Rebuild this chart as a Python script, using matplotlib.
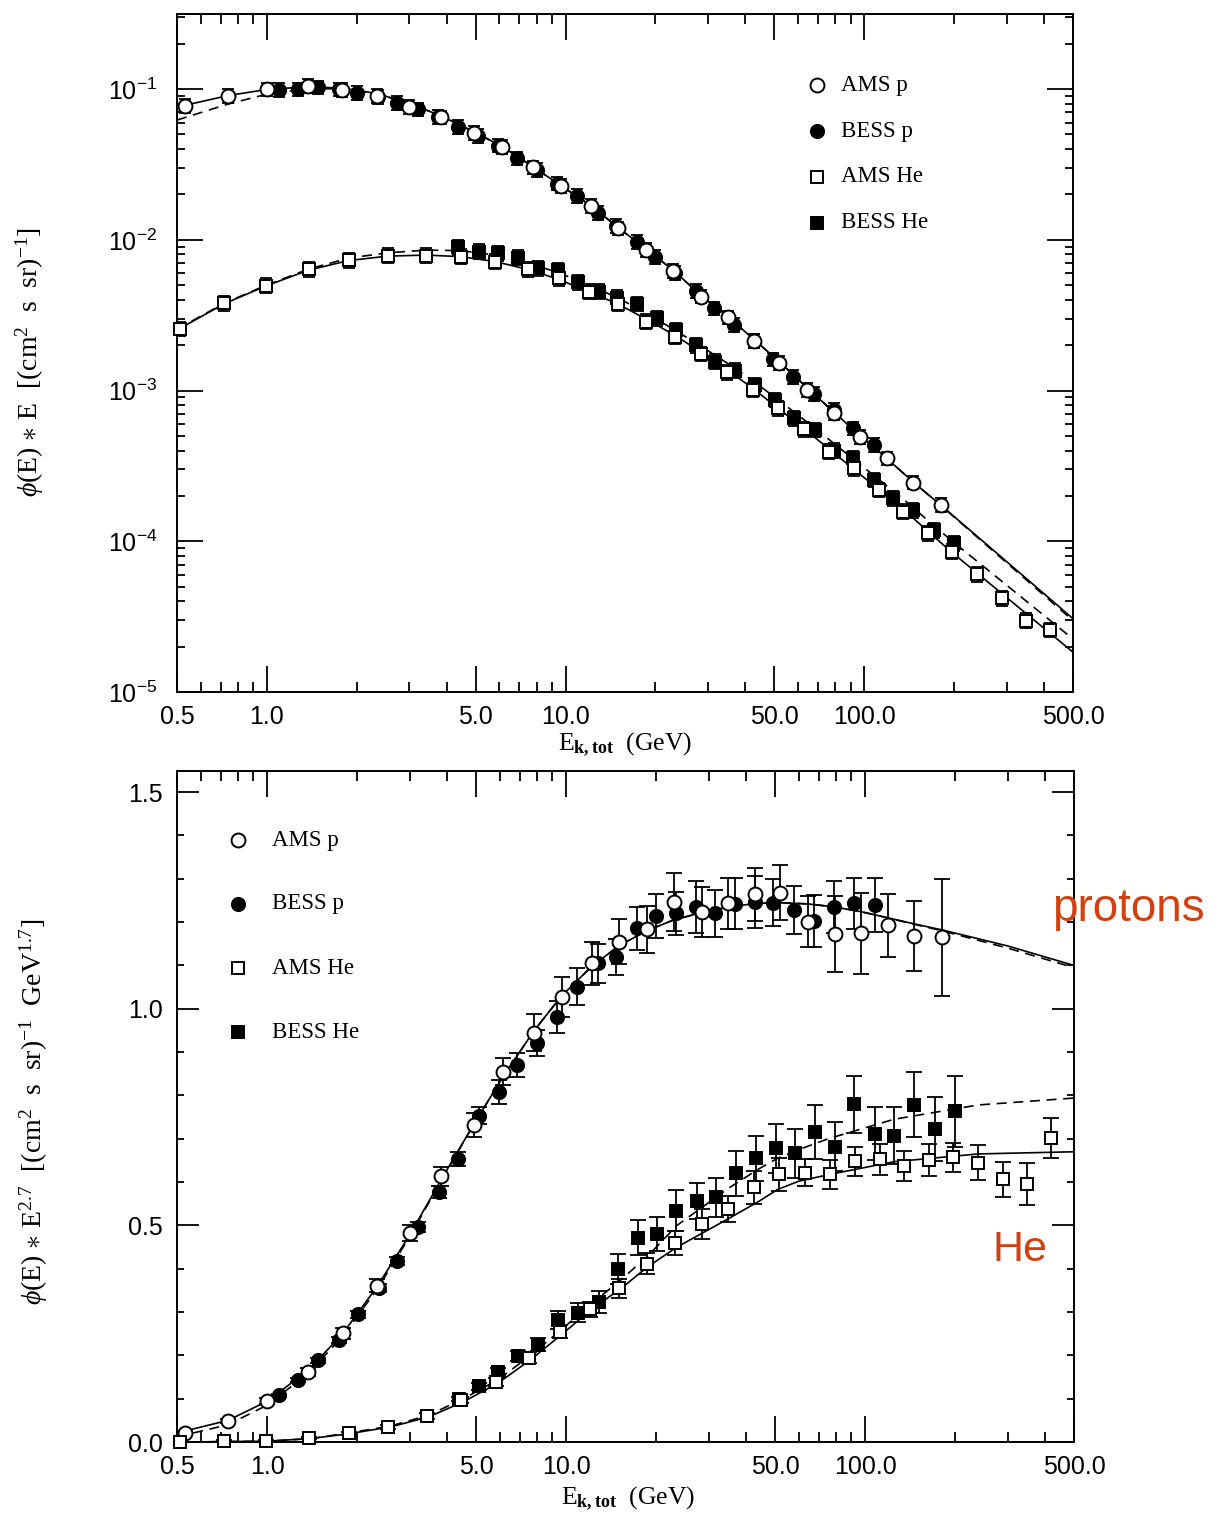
import matplotlib
matplotlib.use('Agg')
import matplotlib.pyplot as plt
from matplotlib.ticker import (FixedLocator, FixedFormatter, NullFormatter,
                               LogLocator, LogFormatterMathtext,
                               MultipleLocator, FormatStrFormatter)

plt.rcParams['font.family'] = ['Liberation Sans', 'DejaVu Sans']
plt.rcParams['mathtext.fontset'] = 'custom'
plt.rcParams['mathtext.rm'] = 'Liberation Serif'
plt.rcParams['mathtext.it'] = 'Liberation Serif:italic'
plt.rcParams['mathtext.bf'] = 'Liberation Serif:bold'

# ---- data: AMS protons (open circles) ----
ams_p_E = [0.53, 0.74, 1.0, 1.37, 1.79, 2.33, 3.0, 3.82, 4.93, 6.14,
           7.79, 9.67, 12.2, 15.0, 18.6, 22.9, 28.4, 34.9, 42.9, 52.0,
           64.5, 79.1, 97.1, 119, 146, 181]
ams_p_top = [0.0775, 0.0899, 0.0995, 0.1047, 0.0985, 0.0899, 0.0763, 0.0649, 0.0513, 0.0411,
             0.0302, 0.0227, 0.01675, 0.01191, 0.00855, 0.00620, 0.00420, 0.00306, 0.00214, 0.00153,
             0.001008, 7.12e-4, 4.94e-4, 3.55e-4, 2.45e-4, 1.74e-4]
ams_p_bot = [0.022, 0.048, 0.095, 0.162, 0.251, 0.361, 0.482, 0.613, 0.732, 0.855,
             0.945, 1.028, 1.105, 1.155, 1.183, 1.247, 1.224, 1.243, 1.264, 1.268,
             1.201, 1.172, 1.174, 1.193, 1.168, 1.165]
ams_p_err = [0.004, 0.005, 0.007, 0.009, 0.012, 0.015, 0.018, 0.022, 0.027, 0.032,
             0.042, 0.046, 0.05, 0.052, 0.055, 0.067, 0.058, 0.058, 0.062, 0.064,
             0.059, 0.088, 0.094, 0.073, 0.08, 0.135]

# ---- data: BESS protons (filled circles) ----
bess_p_E = [1.10, 1.27, 1.48, 1.74, 2.01, 2.36, 2.72, 3.20, 3.75, 4.35,
            5.11, 5.96, 6.86, 8.02, 9.35, 10.9, 12.8, 14.7, 17.3, 20.0,
            23.3, 27.3, 31.5, 36.6, 42.9, 49.4, 57.9, 67.7, 79.0, 91.6, 107.6]
bess_p_top = [0.0985, 0.0995, 0.1026, 0.0995, 0.0945, 0.0885, 0.0811, 0.0733, 0.0652, 0.0562,
              0.0488, 0.0422, 0.0347, 0.0290, 0.0236, 0.0195, 0.0151, 0.01234, 0.00971, 0.00772,
              0.00602, 0.00459, 0.00351, 0.00272, 0.00213, 0.00161, 0.001234, 9.48e-4, 7.42e-4, 5.61e-4,
              4.35e-4]
bess_p_bot = [0.108, 0.143, 0.189, 0.235, 0.295, 0.355, 0.418, 0.497, 0.578, 0.653,
              0.753, 0.808, 0.870, 0.922, 0.982, 1.051, 1.105, 1.120, 1.186, 1.214,
              1.220, 1.235, 1.220, 1.242, 1.247, 1.245, 1.228, 1.202, 1.234, 1.243, 1.239]
bess_p_err = [0.004, 0.005, 0.006, 0.007, 0.008, 0.009, 0.01, 0.012, 0.014, 0.017,
              0.02, 0.027, 0.028, 0.03, 0.037, 0.043, 0.045, 0.042, 0.05, 0.051,
              0.05, 0.06, 0.055, 0.059, 0.06, 0.055, 0.056, 0.06, 0.06, 0.06, 0.062]

# ---- data: AMS helium (open squares) ----
ams_he_E = [0.51, 0.72, 0.99, 1.38, 1.88, 2.54, 3.42, 4.45, 5.82, 7.51,
            9.54, 12.0, 15.0, 18.6, 23.2, 28.4, 34.8, 42.5, 51.4, 62.8,
            76.3, 92.3, 112, 135, 163, 197, 238, 289, 347, 418]
ams_he_top = [0.00256, 0.00379, 0.00496, 0.00637, 0.00734, 0.00784, 0.00784, 0.00772, 0.00715, 0.00637,
              0.00557, 0.00452, 0.00375, 0.00286, 0.00227, 0.00175, 0.00132, 0.001008, 7.62e-4, 5.53e-4,
              3.93e-4, 3.05e-4, 2.19e-4, 1.57e-4, 1.129e-4, 8.52e-5, 6.06e-5, 4.18e-5, 2.97e-5, 2.58e-5]
ams_he_bot = [0.001, 0.002, 0.002, 0.009, 0.02, 0.035, 0.06, 0.097, 0.139, 0.195,
              0.255, 0.306, 0.355, 0.412, 0.459, 0.503, 0.538, 0.588, 0.618, 0.622,
              0.618, 0.648, 0.653, 0.637, 0.652, 0.657, 0.645, 0.606, 0.595, 0.702]
ams_he_err = [0.002, 0.002, 0.002, 0.003, 0.004, 0.005, 0.006, 0.008, 0.01, 0.012,
              0.015, 0.018, 0.022, 0.025, 0.027, 0.035, 0.03, 0.038, 0.038, 0.032,
              0.033, 0.033, 0.036, 0.035, 0.037, 0.033, 0.041, 0.04, 0.048, 0.046]

# ---- data: BESS helium (filled squares) ----
bess_he_E = [4.37, 5.13, 5.93, 6.92, 8.07, 9.41, 11.0, 12.9, 14.9, 17.4,
             20.2, 23.4, 27.4, 31.7, 36.9, 43.1, 50.3, 58.3, 68.2, 79.3,
             92.0, 107.7, 125, 146, 171, 200]
bess_he_top = [0.00891, 0.00833, 0.00813, 0.00760, 0.00647, 0.0063, 0.00523, 0.00452, 0.00412, 0.00375,
               0.00301, 0.00252, 0.002003, 0.001552, 0.001353, 0.001088, 8.65e-4, 6.54e-4, 5.47e-4, 3.99e-4,
               3.55e-4, 2.55e-4, 1.93e-4, 1.61e-4, 1.187e-4, 9.69e-5]
bess_he_bot = [0.10, 0.129, 0.162, 0.198, 0.225, 0.282, 0.298, 0.324, 0.399, 0.472,
               0.48, 0.534, 0.557, 0.565, 0.62, 0.655, 0.678, 0.666, 0.716, 0.682,
               0.78, 0.712, 0.707, 0.779, 0.722, 0.764]
bess_he_err = [0.005, 0.008, 0.01, 0.012, 0.015, 0.02, 0.022, 0.025, 0.035, 0.04,
               0.04, 0.047, 0.042, 0.045, 0.052, 0.052, 0.056, 0.056, 0.062, 0.057,
               0.066, 0.062, 0.066, 0.074, 0.074, 0.082]

# relative error bars in the upper (log) panel
top_rel_err_p = 0.11
top_rel_err_he = 0.12

# ---- model curves ----
p_curve_E = [0.5, 0.74, 1.0, 1.37, 1.79, 2.33, 3.0, 3.82, 4.93, 6.14,
             7.79, 9.67, 12.2, 15.0, 18.6, 22.9, 28.4, 34.9, 42.9, 52.0,
             64.5, 79.1, 97.1, 119, 146, 181, 300, 500]
p_solid_top = [0.076, 0.0905, 0.0995, 0.1035, 0.1015, 0.0935, 0.0805, 0.0665, 0.0522, 0.0415,
               0.0305, 0.0228, 0.0168, 0.01205, 0.0087, 0.0063, 0.00428, 0.0031, 0.00217, 0.00155,
               0.00104, 7.2e-4, 5.0e-4, 3.55e-4, 2.47e-4, 1.73e-4, 7.33e-5, 3.07e-5]
p_dashed_top = [0.0623, 0.0795, 0.0926, 0.1005, 0.1005, 0.093, 0.0805, 0.0665, 0.0522, 0.0415,
                0.0305, 0.0228, 0.0168, 0.01205, 0.0087, 0.0063, 0.00428, 0.0031, 0.00217, 0.00155,
                0.00104, 7.2e-4, 5.0e-4, 3.55e-4, 2.47e-4, 1.72e-4, 7.2e-5, 2.98e-5]
p_solid_bot = [0.021, 0.05, 0.094, 0.165, 0.25, 0.358, 0.478, 0.605, 0.735, 0.842,
               0.948, 1.03, 1.098, 1.145, 1.18, 1.205, 1.222, 1.235, 1.243, 1.245,
               1.242, 1.235, 1.224, 1.21, 1.196, 1.182, 1.145, 1.10]
p_dashed_bot = [0.012, 0.04, 0.085, 0.158, 0.244, 0.352, 0.474, 0.603, 0.735, 0.842,
                0.948, 1.03, 1.098, 1.145, 1.18, 1.205, 1.222, 1.235, 1.243, 1.245,
                1.242, 1.235, 1.224, 1.21, 1.195, 1.18, 1.14, 1.095]

he_curve_E_top = [0.5, 0.72, 0.99, 1.38, 1.88, 2.54, 3.42, 4.45, 5.82, 7.51,
                  9.54, 12.0, 15.0, 18.6, 23.2, 28.4, 34.8, 42.5, 51.4, 62.8,
                  76.3, 92.3, 112, 135, 163, 197, 500]
he_solid_top = [0.00252, 0.00377, 0.00493, 0.0063, 0.00729, 0.0078, 0.00792, 0.00774, 0.00717, 0.00635,
                0.00545, 0.0045, 0.00375, 0.00298, 0.00233, 0.0018, 0.00137, 0.00103, 7.65e-4, 5.6e-4,
                4.09e-4, 3.01e-4, 2.2e-4, 1.636e-4, 1.17e-4, 8.42e-5, 1.84e-5]
he_dashed_top = [0.00255, 0.0038, 0.00498, 0.0064, 0.00757, 0.0082, 0.00855, 0.00848, 0.00792, 0.00701,
                 0.00602, 0.00501, 0.00411, 0.00327, 0.00252, 0.00197, 0.00152, 0.001156, 8.72e-4, 6.42e-4,
                 4.73e-4, 3.49e-4, 2.57e-4, 1.91e-4, 1.38e-4, 1.004e-4, 2.25e-5]

he_curve_E_bot = [0.5, 1.0, 1.4, 1.91, 2.59, 3.47, 4.54, 5.95, 7.61, 9.74,
                  12.1, 15.3, 18.8, 23.5, 34.8, 44.0, 51.0, 60.0, 75.3, 125, 239, 500]
he_solid_bot = [0.0, 0.002, 0.008, 0.02, 0.035, 0.058, 0.093, 0.137, 0.19, 0.25,
                0.305, 0.355, 0.405, 0.45, 0.515, 0.555, 0.583, 0.602, 0.617, 0.647, 0.665, 0.67]
he_dashed_bot = [0.0, 0.002, 0.008, 0.022, 0.037, 0.062, 0.1, 0.145, 0.2, 0.262,
                 0.318, 0.375, 0.43, 0.50, 0.585, 0.63, 0.655, 0.675, 0.70, 0.745, 0.778, 0.794]

# axis ticks
x_major = [0.5, 1, 5, 10, 50, 100, 500]
x_labels = ['0.5', '1.0', '5.0', '10.0', '50.0', '100.0', '500.0']
x_minor = [0.6, 0.7, 0.8, 0.9, 2, 3, 4, 6, 7, 8, 9, 20, 30, 40, 60, 70, 80, 90, 200, 300, 400]

legend_labels = ['AMS p', 'BESS p', 'AMS He', 'BESS He']

SERIF = ['Liberation Serif', 'DejaVu Serif']
RED = '#d2400f'


def setup_x(ax):
    ax.set_xscale('log')
    ax.set_xlim(0.5, 500)
    ax.xaxis.set_major_locator(FixedLocator(x_major))
    ax.xaxis.set_major_formatter(FixedFormatter(x_labels))
    ax.xaxis.set_minor_locator(FixedLocator(x_minor))
    ax.xaxis.set_minor_formatter(NullFormatter())
    ax.tick_params(axis='x', which='major', direction='in', length=19, width=1.3,
                   top=True, labelsize=18, pad=9)
    ax.tick_params(axis='x', which='minor', direction='in', length=7, width=1.3, top=True)
    for s in ax.spines.values():
        s.set_linewidth(1.4)


def draw_series(ax, E, y, err, marker, filled, ms, capsize):
    ax.errorbar(E, y, yerr=err, fmt='none', ecolor='black', elinewidth=1.3,
                capsize=capsize, capthick=1.3, zorder=3)
    ax.plot(E, y, ls='none', marker=marker, ms=ms,
            mfc='black' if filled else 'white', mec='black', mew=1.4,
            zorder=4, clip_on=False)


def log_err(vals, rel):
    lo = [v - v / (1 + rel) for v in vals]
    hi = [v * rel for v in vals]
    return [lo, hi]


def draw_legend(ax, x_mark, x_text, ys):
    styles = [('o', False, 10), ('o', True, 9.5), ('s', False, 8), ('s', True, 8)]
    for (m, filled, ms), lab, yy in zip(styles, legend_labels, ys):
        ax.plot([x_mark], [yy], transform=ax.transAxes, marker=m, ms=ms, ls='none',
                mfc='black' if filled else 'white', mec='black', mew=1.4, clip_on=False)
        ax.text(x_text, yy, lab, transform=ax.transAxes, va='center', ha='left',
                fontsize=16.5, family=SERIF)


fig = plt.figure(figsize=(12.19, 15.17), dpi=100)

# ================= upper panel =================
ax1 = fig.add_axes([0.1452, 0.5438, 0.7350, 0.4469])
setup_x(ax1)
ax1.set_yscale('log')
ax1.set_ylim(1e-5, 0.3144)
ax1.yaxis.set_major_locator(LogLocator(base=10, numticks=10))
ax1.yaxis.set_minor_locator(LogLocator(base=10, subs=range(2, 10), numticks=40))
ax1.yaxis.set_major_formatter(LogFormatterMathtext())
ax1.yaxis.set_minor_formatter(NullFormatter())
ax1.tick_params(axis='y', which='major', direction='in', length=19, width=1.3,
                right=True, labelsize=18, pad=14)
ax1.tick_params(axis='y', which='minor', direction='in', length=6, width=1.3, right=True)

ax1.plot(p_curve_E, p_solid_top, color='black', lw=1.2, zorder=2)
ax1.plot(p_curve_E, p_dashed_top, color='black', lw=1.2, ls=(0, (6, 4)), zorder=2)
ax1.plot(he_curve_E_top, he_solid_top, color='black', lw=1.2, zorder=2)
ax1.plot(he_curve_E_top, he_dashed_top, color='black', lw=1.2, ls=(0, (6, 4)), zorder=2)

draw_series(ax1, bess_p_E, bess_p_top, log_err(bess_p_top, top_rel_err_p), 'o', True, 9.5, 4.5)
draw_series(ax1, ams_p_E, ams_p_top, log_err(ams_p_top, top_rel_err_p), 'o', False, 10, 4.5)
draw_series(ax1, bess_he_E, bess_he_top, log_err(bess_he_top, top_rel_err_he), 's', True, 8.5, 4.5)
draw_series(ax1, ams_he_E, ams_he_top, log_err(ams_he_top, top_rel_err_he), 's', False, 8.5, 4.5)

draw_legend(ax1, 0.714, 0.741, [0.895, 0.827, 0.760, 0.692])

ax1.text(0.5, -0.078, r'E$_{\mathbf{k,tot}}$  (GeV)', transform=ax1.transAxes,
         ha='center', va='center', fontsize=18.5, family=SERIF)
ax1.text(-0.164, 0.487, r'$\phi$(E) $\ast$ E  [(cm$^2$  s  sr)$^{-1}$]', transform=ax1.transAxes,
         ha='center', va='center', rotation=90, fontsize=20, family=SERIF)

# ================= lower panel =================
ax2 = fig.add_axes([0.1452, 0.0494, 0.7359, 0.4423])
setup_x(ax2)
ax2.set_ylim(0, 1.5486)
ax2.yaxis.set_major_locator(MultipleLocator(0.5))
ax2.yaxis.set_minor_locator(MultipleLocator(0.1))
ax2.yaxis.set_major_formatter(FormatStrFormatter('%.1f'))
ax2.tick_params(axis='y', which='major', direction='in', length=16, width=1.3,
                right=True, labelsize=18, pad=10)
ax2.tick_params(axis='y', which='minor', direction='in', length=5, width=1.3, right=True)

ax2.plot(p_curve_E, p_solid_bot, color='black', lw=1.2, zorder=2)
ax2.plot(p_curve_E, p_dashed_bot, color='black', lw=1.2, ls=(0, (6, 4)), zorder=2)
ax2.plot(he_curve_E_bot, he_solid_bot, color='black', lw=1.2, zorder=2)
ax2.plot(he_curve_E_bot, he_dashed_bot, color='black', lw=1.2, ls=(0, (6, 4)), zorder=2)

draw_series(ax2, bess_p_E, bess_p_bot, bess_p_err, 'o', True, 9.5, 6)
draw_series(ax2, ams_p_E, ams_p_bot, ams_p_err, 'o', False, 10, 6)
draw_series(ax2, bess_he_E, bess_he_bot, bess_he_err, 's', True, 8, 6)
draw_series(ax2, ams_he_E, ams_he_bot, ams_he_err, 's', False, 8, 6)

draw_legend(ax2, 0.068, 0.106, [0.897, 0.802, 0.706, 0.611])

ax2.text(0.503, -0.084, r'E$_{\mathbf{k,tot}}$  (GeV)', transform=ax2.transAxes,
         ha='center', va='center', fontsize=18.5, family=SERIF)
ax2.text(-0.16, 0.492, r'$\phi$(E) $\ast$ E$^{2.7}$  [(cm$^2$  s  sr)$^{-1}$  GeV$^{1.7}$]',
         transform=ax2.transAxes, ha='center', va='center', rotation=90,
         fontsize=20, family=SERIF)

# red annotations
fig.text(0.863, 0.3929, 'protons', color=RED, fontsize=33, ha='left', va='baseline')
fig.text(0.8146, 0.1688, 'He', color=RED, fontsize=31, ha='left', va='baseline')

fig.savefig('out.png', dpi=100)
